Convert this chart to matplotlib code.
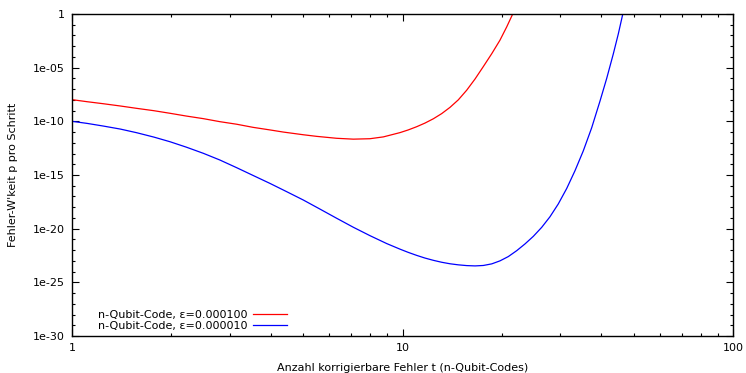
import numpy as np
import matplotlib.pyplot as plt
from matplotlib.ticker import FixedLocator, FuncFormatter, NullFormatter

# values (log10 of p)
t_red = [1, 1.11, 1.244, 1.4, 1.569, 1.77, 1.979, 2.22, 2.497, 2.8, 3.15, 3.53, 3.97, 4.36, 5.01, 5.5, 6.32, 7.1, 7.97, 8.75, 9.83,
         10.41, 11.04, 11.7, 12.4, 13.14, 13.92, 14.75, 15.64, 16.58, 17.56, 18.62, 19.72, 20.67, 21.55]
lp_red = [-7.98, -8.17, -8.36, -8.57, -8.79, -9.01, -9.25, -9.51, -9.75, -10.03, -10.27, -10.56, -10.8, -11.0, -11.25, -11.4, -11.58, -11.66, -11.62, -11.45, -11.05,
          -10.8, -10.5, -10.16, -9.76, -9.28, -8.7, -8.0, -7.1, -6.05, -4.9, -3.7, -2.44, -1.2, 0.0]

t_blue = [1, 1.11, 1.244, 1.4, 1.569, 1.77, 1.979, 2.22, 2.497, 2.8, 3.15, 3.53, 3.97, 4.46, 5.01, 5.63, 6.32, 7.1, 7.97, 8.96, 9.83,
          10.41, 11.04, 11.7, 12.4, 13.14, 13.92, 14.75, 15.64, 16.58, 17.56, 18.62, 19.72, 20.9, 22.16,
          23.48, 24.87, 26.37, 27.94, 29.6, 31.4, 33.26, 35.24, 37.36, 39.6, 41.48, 43.45, 44.98, 46.4]
lp_blue = [-10.0, -10.19, -10.44, -10.72, -11.06, -11.47, -11.9, -12.41, -12.98, -13.6, -14.32, -15.04, -15.78, -16.55, -17.33, -18.18, -19.03, -19.87, -20.65, -21.39, -21.91,
           -22.21, -22.49, -22.74, -22.95, -23.13, -23.27, -23.37, -23.44, -23.47, -23.43, -23.28, -23.0, -22.6, -22.05,
           -21.42, -20.72, -19.88, -18.89, -17.7, -16.25, -14.6, -12.75, -10.6, -8.1, -6.0, -3.7, -1.85, 0.0]

labels = ["n-Qubit-Code, \u03b5=0.000100", "n-Qubit-Code, \u03b5=0.000010"]

fig = plt.figure(figsize=(7.46, 3.73), dpi=100)
ax = fig.add_axes([72/746, 37/373, 661/746, 322/373])

ax.plot(t_red, 10.0**np.array(lp_red), color='#ff0000', lw=0.9, label=labels[0])
ax.plot(t_blue, 10.0**np.array(lp_blue), color='#0000ff', lw=0.9, label=labels[1])

ax.set_xscale('log')
ax.set_yscale('log')
ax.set_xlim(1, 100)
ax.set_ylim(1e-30, 1)


def ylab(v, pos):
    k = int(round(np.log10(v)))
    if k == 0:
        return '1'
    return '1e-%02d' % -k


ax.yaxis.set_major_locator(FixedLocator([10.0**k for k in range(-30, 1, 5)]))
ax.yaxis.set_minor_locator(FixedLocator([10.0**k for k in range(-30, 1)]))
ax.yaxis.set_major_formatter(FuncFormatter(ylab))
ax.yaxis.set_minor_formatter(NullFormatter())
ax.xaxis.set_major_locator(FixedLocator([1, 10, 100]))
ax.xaxis.set_major_formatter(FuncFormatter(lambda v, p: '%d' % v))
ax.xaxis.set_minor_locator(FixedLocator([m * 10**k for k in range(0, 2) for m in range(2, 10)]))
ax.xaxis.set_minor_formatter(NullFormatter())

ax.tick_params(which='both', direction='in', top=True, right=True, labelsize=8, width=0.8, pad=5)
ax.tick_params(which='major', length=5)
ax.tick_params(which='minor', length=2.5)
for s in ax.spines.values():
    s.set_linewidth(1.0)

ax.set_xlabel('Anzahl korrigierbare Fehler t (n-Qubit-Codes)', fontsize=8, labelpad=7)
ax.set_ylabel("Fehler-W'keit p pro Schritt", fontsize=8, labelpad=11)

ax.legend(loc='lower left', markerfirst=False, frameon=False, fontsize=8,
          handlelength=3.0, handletextpad=0.55, labelspacing=0.1,
          bbox_to_anchor=(0.024, -0.015))

fig.savefig('out.png', dpi=100)
